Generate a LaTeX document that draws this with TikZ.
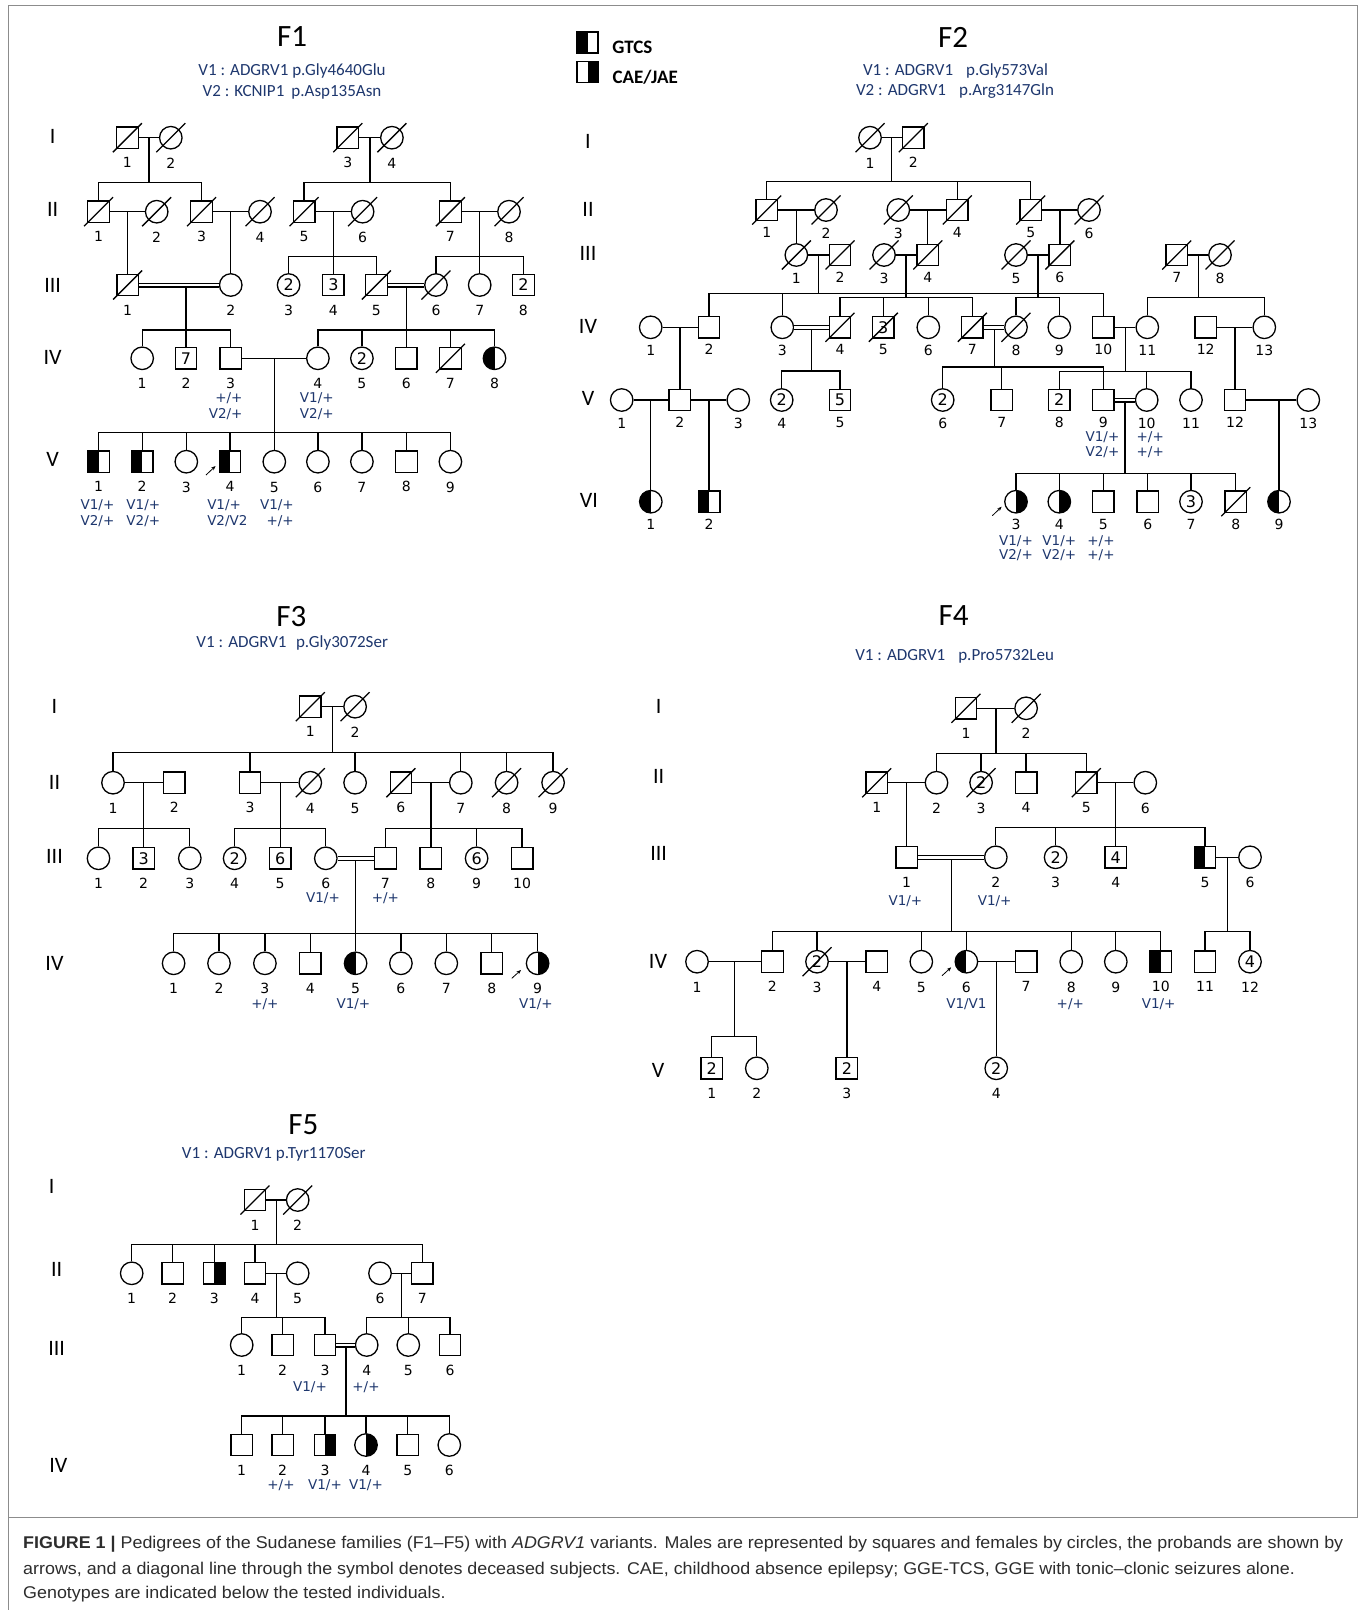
\documentclass[tikz,border=0pt]{standalone}
\usepackage{fontspec}
\setmainfont{Carlito}
\newfontfamily\numfont{DejaVu Sans}
\newfontfamily\capfont{Liberation Sans}
\usetikzlibrary{calc,arrows.meta}
\definecolor{navy}{RGB}{30,55,110}
\definecolor{capgray}{RGB}{45,45,45}
\definecolor{framec}{RGB}{140,140,140}
\newlength\capw
\newcommand\innerfont{\numfont\fontsize{16}{16}\selectfont}
\newcommand\capfnt{\capfont\fontsize{17}{20}\selectfont}
\newcommand\capone{\textbf{FIGURE 1 |} Pedigrees of the Sudanese families (F1–F5) with \textit{ADGRV1} variants. Males are represented by squares and females by circles, the probands are shown by}
\newcommand\captwo{arrows, and a diagonal line through the symbol denotes deceased subjects. CAE, childhood absence epilepsy; GGE-TCS, GGE with tonic–clonic seizures alone.}
\newcommand\capthree{Genotypes are indicated below the tested individuals.}
\newcommand\marry[3]{\draw (#1) -- (#2); \coordinate (#3) at ($(#1)!.5!(#2)$);}
\newcommand\cmarry[3]{\draw[double, double distance=2.8pt, line width=1.1pt] (#1) -- (#2); \coordinate (#3) at ($(#1)!.5!(#2)+(0,2.5)$);}
\newcommand\desc[2]{\draw (#1) -- (#1 |- #2.north);}
\newcommand\sibs[5]{%
  \coordinate (sibY) at (0,#2);
  \draw (#1) -- (#1 |- sibY);
  \draw (#3.north) -- (#3.north |- sibY) -- (#4.north |- sibY) -- (#4.north);
  \foreach \c in {#5} {\draw (\c.north) -- (\c.north |- sibY);}
}
\begin{document}
\settowidth{\capw}{\capfnt\capone}%
\pgfmathsetmacro\capsc{1320/\capw}%
\begin{tikzpicture}[x=1pt,y=-1pt,line width=1.3pt,label distance=8pt,
  sym/.style={draw, inner sep=0pt, font=\innerfont},
  male/.style={sym, rectangle, minimum size=21.5pt},
  fem/.style={sym, circle, minimum size=22.5pt},
  gt/.style={path picture={\fill[black] (path picture bounding box.south west) rectangle (path picture bounding box.north);}},
  ca/.style={path picture={\fill[black] (path picture bounding box.south) rectangle (path picture bounding box.north east);}},
  dead/.style={append after command={([shift={(-14.5pt,-14.5pt)}]\tikzlastnode.center) edge[line width=1.3pt] ([shift={(14.5pt,14.5pt)}]\tikzlastnode.center)}},
  numlab/.style={font=\numfont\fontsize{14}{14}\selectfont, inner sep=0pt, text height=10pt, text depth=0pt},
  lab/.style={label={[numlab]below:#1}},
  geno/.style={font=\numfont\fontsize{13.5}{15}\selectfont, text=navy, inner sep=0pt, anchor=base},
  gen/.style={font=\fontsize{22}{22}\selectfont, inner sep=0pt},
  ttl/.style={font=\fontsize{31}{31}\selectfont, inner sep=0pt},
  var/.style={font=\fontsize{17}{20}\selectfont, text=navy, inner sep=0pt, anchor=base},
  parrow/.style={line width=0.8pt, -{Stealth[length=4.5pt,width=3.5pt]}},
  capn/.style={anchor=base west, inner sep=0pt, text=capgray}]
\useasboundingbox (0,0) rectangle (1360,1610);
\fill[white] (0,0) rectangle (1360,1610);
\draw[framec, line width=0.8pt] (8.2,5) rectangle (1357,1517);
\draw[framec, line width=0.8pt] (8.2,1517) -- (8.2,1610);

% ---------------- legend
\node[male,gt,minimum size=21pt] (lg1) at (587.5,42.5) {};
\node[male,ca,minimum size=21pt] (lg2) at (587.5,71.7) {};
\node[font=\bfseries\fontsize{19}{19}\selectfont, anchor=base west, inner sep=0pt] (lg1t) at (611.7,53.2) {GTCS};
\node[font=\bfseries\fontsize{19}{19}\selectfont, anchor=base west, inner sep=0pt] (lg2t) at (612,83.2) {CAE/JAE};

% ================= F1
\node[ttl] (f1t) at (292,37) {F1};
\node[var] (f1v1) at (292,75) {V1 : ADGRV1 p.Gly4640Glu};
\node[var] (f1v2) at (292,96) {V2 : KCNIP1\hspace{7pt}p.Asp135Asn};
\node[gen] (f1gI) at (52.7,136.7) {I};
\node[gen] (f1gII) at (52.7,209.3) {II};
\node[gen] (f1gIII) at (52.7,285) {III};
\node[gen] (f1gIV) at (52.7,357.3) {IV};
\node[gen] (f1gV) at (52.7,459) {V};

\node[male,dead,lab=1] (f1I1) at (127.4,137.7) {};
\node[fem,dead,lab=2] (f1I2) at (170.8,137.7) {};
\node[male,dead,lab=3] (f1I3) at (347.8,137.7) {};
\node[fem,dead,lab=4] (f1I4) at (391.9,137.7) {};

\node[male,dead,lab=1] (f1II1) at (98.5,211.7) {};
\node[fem,dead,lab=2] (f1II2) at (156.7,211.7) {};
\node[male,dead,lab=3] (f1II3) at (201.5,211.7) {};
\node[fem,dead,lab=4] (f1II4) at (260,211.7) {};
\node[male,dead,lab=5] (f1II5) at (304.1,211.7) {};
\node[fem,dead,lab=6] (f1II6) at (362.6,211.7) {};
\node[male,dead,lab=7] (f1II7) at (450.4,211.7) {};
\node[fem,dead,lab=8] (f1II8) at (509,211.7) {};

\node[male,dead,lab=1] (f1III1) at (127.6,285) {};
\node[fem,lab=2] (f1III2) at (230.75,285) {};
\node[fem,lab=3] (f1III3) at (288.6,285) {2};
\node[male,lab=4] (f1III4) at (333.35,285) {3};
\node[male,dead,lab=5] (f1III5) at (376.4,285) {};
\node[fem,dead,lab=6] (f1III6) at (436,285) {};
\node[fem,lab=7] (f1III7) at (479.7,285) {};
\node[male,lab=8] (f1III8) at (523.4,285) {2};

\node[fem,lab=1] (f1IV1) at (142.2,358.3) {};
\node[male,lab=2] (f1IV2) at (186,358.3) {7};
\node[male,lab=3] (f1IV3) at (230.7,358.3) {};
\node[fem,lab=4] (f1IV4) at (317.9,358.3) {};
\node[fem,lab=5] (f1IV5) at (361.9,358.3) {2};
\node[male,lab=6] (f1IV6) at (406.2,358.3) {};
\node[male,dead,lab=7] (f1IV7) at (450.4,358.3) {};
\node[fem,gt,lab=8] (f1IV8) at (494.5,358.3) {};

\node[male,gt,lab=1] (f1V1) at (98.5,461.7) {};
\node[male,gt,lab=2] (f1V2) at (142.2,461.7) {};
\node[fem,lab=3] (f1V3) at (186.3,461.7) {};
\node[male,gt,lab=4] (f1V4) at (230,461.7) {};
\node[fem,lab=5] (f1V5) at (274.3,461.7) {};
\node[fem,lab=6] (f1V6) at (317.9,461.7) {};
\node[fem,lab=7] (f1V7) at (361.9,461.7) {};
\node[male,lab=8] (f1V8) at (406.4,461.7) {};
\node[fem,lab=9] (f1V9) at (450.4,461.7) {};

\marry{f1I1}{f1I2}{f1u1} \sibs{f1u1}{182.7}{f1II1}{f1II3}{f1II3}
\marry{f1I3}{f1I4}{f1u2} \sibs{f1u2}{182.7}{f1II5}{f1II7}{f1II7}
\marry{f1II1}{f1II2}{f1u3} \desc{f1u3}{f1III1}
\marry{f1II3}{f1II4}{f1u4} \desc{f1u4}{f1III2}
\marry{f1II5}{f1II6}{f1u5} \sibs{f1u5}{256.7}{f1III3}{f1III5}{f1III4}
\marry{f1II7}{f1II8}{f1u6} \sibs{f1u6}{256.7}{f1III6}{f1III8}{f1III7}
\cmarry{f1III1}{f1III2}{f1u7x}
\coordinate (f1u7) at (f1IV2 |- f1u7x);
\sibs{f1u7}{330}{f1IV1}{f1IV3}{f1IV2}
\cmarry{f1III5}{f1III6}{f1u8} \sibs{f1u8}{330}{f1IV4}{f1IV8}{f1IV5,f1IV6,f1IV7}
\marry{f1IV3}{f1IV4}{f1u9} \sibs{f1u9}{432.3}{f1V1}{f1V9}{f1V2,f1V3,f1V4,f1V5,f1V6,f1V7,f1V8}

\node[geno,anchor=base east] (f1g1) at (243.1,402.6) {+/+};
\node[geno,anchor=base east] (f1g2) at (243.1,418.2) {V2/+};
\node[geno] (f1g3) at (316.8,402.6) {V1/+};
\node[geno] (f1g4) at (316.8,418.2) {V2/+};
\node[geno] (f1g5) at (97.5,509.9) {V1/+};
\node[geno] (f1g6) at (97.5,525) {V2/+};
\node[geno] (f1g7) at (143.3,509.9) {V1/+};
\node[geno] (f1g8) at (143.3,525) {V2/+};
\node[geno,anchor=base west] (f1g9) at (206.6,509.9) {V1/+};
\node[geno,anchor=base west] (f1g10) at (206.6,525) {V2/V2};
\node[geno,anchor=base east] (f1g11) at (294.4,509.9) {V1/+};
\node[geno,anchor=base east] (f1g12) at (294.4,525) {+/+};
\coordinate (f1a0) at (206,475); \coordinate (f1a1) at (215.6,466);
\draw[parrow] (f1a0) -- (f1a1);

% ================= F2
\node[ttl] (f2t) at (953,37) {F2};
\node[var] (f2v1) at (955.5,75) {V1 : ADGRV1\hspace{13pt}p.Gly573Val};
\node[var] (f2v2) at (955,95) {V2 : ADGRV1\hspace{13pt}p.Arg3147Gln};
\node[gen] (f2gI) at (588,141.7) {I};
\node[gen] (f2gII) at (588,209) {II};
\node[gen] (f2gIII) at (588,253.3) {III};
\node[gen] (f2gIV) at (588,326.7) {IV};
\node[gen] (f2gV) at (588,398.3) {V};
\node[gen] (f2gVI) at (589,500) {VI};

\node[fem,dead,lab=1] (f2I1) at (870,137.7) {};
\node[male,dead,lab=2] (f2I2) at (913.3,137.7) {};

\begin{scope}[lab/.style={label={[numlab,yshift=2.5pt]below:#1}}]
\node[male,dead,lab=1] (f2II1) at (766.7,210) {};
\node[fem,dead,lab=2] (f2II2) at (826,210) {};
\node[fem,dead,lab=3] (f2II3) at (898.3,210) {};
\node[male,dead,lab=4] (f2II4) at (957.3,210) {};
\node[male,dead,lab=5] (f2II5) at (1030.7,210) {};
\node[fem,dead,lab=6] (f2II6) at (1089,210) {};

\node[fem,dead,lab=1] (f2III1) at (796.35,255) {};
\node[male,dead,lab=2] (f2III2) at (840,255) {};
\node[fem,dead,lab=3] (f2III3) at (884,255) {};
\node[male,dead,lab=4] (f2III4) at (927.8,255) {};
\node[fem,dead,lab=5] (f2III5) at (1016,255) {};
\node[male,dead,lab=6] (f2III6) at (1059.85,255) {};
\node[male,dead,lab=7] (f2III7) at (1176.7,255) {};
\node[fem,dead,lab=8] (f2III8) at (1220,255) {};

\node[fem,lab=1] (f2IV1) at (650.7,327.3) {};
\node[male,lab=2] (f2IV2) at (709,327.3) {};
\node[fem,lab=3] (f2IV3) at (782.3,327.3) {};
\node[male,dead,lab=4] (f2IV4) at (840,327.3) {};
\node[male,dead,lab=5] (f2IV5) at (883.3,327.3) {3};
\node[fem,lab=6] (f2IV6) at (928.3,327.3) {};
\node[male,dead,lab=7] (f2IV7) at (972.3,327.3) {};
\node[fem,dead,lab=8] (f2IV8) at (1016,327.3) {};
\node[fem,lab=9] (f2IV9) at (1059.3,327.3) {};
\node[male,lab=10] (f2IV10) at (1103.3,327.3) {};
\node[fem,lab=11] (f2IV11) at (1147.3,327.3) {};
\node[male,lab=12] (f2IV12) at (1205.7,327.3) {};
\node[fem,lab=13] (f2IV13) at (1264.3,327.3) {};

\node[fem,lab=1] (f2V1) at (621.7,400) {};
\node[male,lab=2] (f2V2) at (679.85,400) {};
\node[fem,lab=3] (f2V3) at (738.3,400) {};
\node[fem,lab=4] (f2V4) at (781.7,400) {2};
\node[male,lab=5] (f2V5) at (840,400) {5};
\node[fem,lab=6] (f2V6) at (942.7,400) {2};
\node[male,lab=7] (f2V7) at (1001.7,400) {};
\node[male,lab=8] (f2V8) at (1059.3,400) {2};
\node[male,lab=9] (f2V9) at (1103.3,400) {};
\node[fem,lab=10] (f2V10) at (1146.7,400) {};
\node[fem,lab=11] (f2V11) at (1191,400) {};
\node[male,lab=12] (f2V12) at (1235,400) {};
\node[fem,lab=13] (f2V13) at (1308.3,400) {};

\node[fem,gt,lab=1] (f2VI1) at (650.8,501.7) {};
\node[male,gt,lab=2] (f2VI2) at (709.1,501.7) {};
\node[fem,ca,lab=3] (f2VI3) at (1016,501.7) {};
\node[fem,ca,lab=4] (f2VI4) at (1059.3,501.7) {};
\node[male,lab=5] (f2VI5) at (1103.3,501.7) {};
\node[male,lab=6] (f2VI6) at (1147.7,501.7) {};
\node[fem,lab=7] (f2VI7) at (1191,501.7) {3};
\node[male,dead,lab=8] (f2VI8) at (1235.7,501.7) {};
\node[fem,gt,lab=9] (f2VI9) at (1279,501.7) {};
\end{scope}

\marry{f2I1}{f2I2}{f2u1} \sibs{f2u1}{181.7}{f2II1}{f2II5}{f2II4}
\marry{f2II1}{f2II2}{f2u2} \desc{f2u2}{f2III1}
\marry{f2II3}{f2II4}{f2u3} \desc{f2u3}{f2III4}
\marry{f2II5}{f2II6}{f2u4} \desc{f2u4}{f2III6}
\marry{f2III1}{f2III2}{f2u5} \sibs{f2u5}{293.3}{f2IV2}{f2IV10}{f2IV3}
\marry{f2III3}{f2III4}{f2u6} \sibs{f2u6}{297.3}{f2IV4}{f2IV7}{f2IV5,f2IV6}
\marry{f2III5}{f2III6}{f2u7} \sibs{f2u7}{297.3}{f2IV8}{f2IV9}{f2IV9}
\marry{f2III7}{f2III8}{f2u8} \sibs{f2u8}{297.3}{f2IV11}{f2IV13}{f2IV13}
\marry{f2IV1}{f2IV2}{f2u9} \desc{f2u9}{f2V2}
\cmarry{f2IV3}{f2IV4}{f2u10} \sibs{f2u10}{371}{f2V4}{f2V5}{f2V5}
\cmarry{f2IV7}{f2IV8}{f2u11} \sibs{f2u11}{367}{f2V6}{f2V9}{f2V7}
\marry{f2IV10}{f2IV11}{f2u12} \sibs{f2u12}{371.7}{f2V8}{f2V11}{f2V10}
\marry{f2IV12}{f2IV13}{f2u13} \desc{f2u13}{f2V12}
\marry{f2V1}{f2V2}{f2u14} \desc{f2u14}{f2VI1}
\marry{f2V2}{f2V3}{f2u15} \desc{f2u15}{f2VI2}
\cmarry{f2V9}{f2V10}{f2u16} \sibs{f2u16}{473.3}{f2VI3}{f2VI8}{f2VI4,f2VI5,f2VI6,f2VI7}
\marry{f2V12}{f2V13}{f2u17x}
\coordinate (f2u17) at (f2VI9 |- f2V12);
\desc{f2u17}{f2VI9}

\node[geno,anchor=base east] (f2g1) at (1120,441.5) {V1/+};
\node[geno,anchor=base east] (f2g2) at (1120,456.2) {V2/+};
\node[geno,anchor=base west] (f2g3) at (1136,441.5) {+/+};
\node[geno,anchor=base west] (f2g4) at (1136,456.2) {+/+};
\node[geno] (f2g5) at (1016,545.6) {V1/+};
\node[geno] (f2g6) at (1016,559.9) {V2/+};
\node[geno] (f2g7) at (1059.3,545.6) {V1/+};
\node[geno] (f2g8) at (1059.3,559.9) {V2/+};
\node[geno] (f2g9) at (1101,545.6) {+/+};
\node[geno] (f2g10) at (1101,559.9) {+/+};
\coordinate (f2a0) at (992.3,515.7); \coordinate (f2a1) at (1001.7,506.7);
\draw[parrow] (f2a0) -- (f2a1);

% ================= F3
\node[ttl] (f3t) at (291.4,617) {F3};
\node[var] (f3v1) at (292.2,647.7) {V1 : ADGRV1\hspace{9.5pt}p.Gly3072Ser};
\node[gen] (f3gI) at (54.5,706.7) {I};
\node[gen] (f3gII) at (54.5,782.7) {II};
\node[gen] (f3gIII) at (54.5,856.7) {III};
\node[gen] (f3gIV) at (54.5,963.3) {IV};

\node[male,dead,lab=1] (f3I1) at (310.3,706.7) {};
\node[fem,dead,lab=2] (f3I2) at (355.1,706.7) {};

\node[fem,lab=1] (f3II1) at (113,782.7) {};
\node[male,lab=2] (f3II2) at (174.3,782.7) {};
\node[male,lab=3] (f3II3) at (250,782.7) {};
\node[fem,dead,lab=4] (f3II4) at (310.3,782.7) {};
\node[fem,lab=5] (f3II5) at (355.1,782.7) {};
\node[male,dead,lab=6] (f3II6) at (400.9,782.7) {};
\node[fem,lab=7] (f3II7) at (460.8,782.7) {};
\node[fem,dead,lab=8] (f3II8) at (506.6,782.7) {};
\node[fem,dead,lab=9] (f3II9) at (553.1,782.7) {};

\node[fem,lab=1] (f3III1) at (98.5,858.3) {};
\node[male,lab=2] (f3III2) at (143.65,858.3) {3};
\node[fem,lab=3] (f3III3) at (189.8,858.3) {};
\node[fem,lab=4] (f3III4) at (234.6,858.3) {2};
\node[male,lab=5] (f3III5) at (280.15,858.3) {6};
\node[fem,lab=6] (f3III6) at (325.8,858.3) {};
\node[male,lab=7] (f3III7) at (385.4,858.3) {};
\node[male,lab=8] (f3III8) at (430.85,858.3) {};
\node[fem,lab=9] (f3III9) at (476.6,858.3) {6};
\node[male,lab=10] (f3III10) at (522.1,858.3) {};

\node[fem,lab=1] (f3IV1) at (173.6,963.3) {};
\node[fem,lab=2] (f3IV2) at (219,963.3) {};
\node[fem,lab=3] (f3IV3) at (264.9,963.3) {};
\node[male,lab=4] (f3IV4) at (310.3,963.3) {};
\node[fem,gt,lab=5] (f3IV5) at (355.6,963.3) {};
\node[fem,lab=6] (f3IV6) at (400.9,963.3) {};
\node[fem,lab=7] (f3IV7) at (446.3,963.3) {};
\node[male,lab=8] (f3IV8) at (491.8,963.3) {};
\node[fem,ca,lab=9] (f3IV9) at (537.6,963.3) {};

\marry{f3I1}{f3I2}{f3u1} \sibs{f3u1}{752.7}{f3II1}{f3II9}{f3II3,f3II5,f3II7,f3II8}
\marry{f3II1}{f3II2}{f3u2} \sibs{f3u2}{828.3}{f3III1}{f3III3}{f3III2}
\marry{f3II3}{f3II4}{f3u3} \sibs{f3u3}{828.3}{f3III4}{f3III6}{f3III5}
\marry{f3II6}{f3II7}{f3u4} \sibs{f3u4}{828.3}{f3III7}{f3III10}{f3III8,f3III9}
\cmarry{f3III6}{f3III7}{f3u5} \sibs{f3u5}{933.3}{f3IV1}{f3IV9}{f3IV2,f3IV3,f3IV4,f3IV5,f3IV6,f3IV7,f3IV8}

\node[geno] (f3g1) at (323,902.6) {V1/+};
\node[geno] (f3g2) at (385.4,902.6) {+/+};
\node[geno] (f3g3) at (264.9,1008.2) {+/+};
\node[geno] (f3g4) at (353.4,1008.2) {V1/+};
\node[geno] (f3g5) at (535.9,1008.2) {V1/+};
\coordinate (f3a0) at (511.8,978.3); \coordinate (f3a1) at (521,970);
\draw[parrow] (f3a0) -- (f3a1);

% ================= F4
\node[ttl] (f4t) at (953.7,616) {F4};
\node[var] (f4v1) at (954.6,660) {V1 : ADGRV1\hspace{13pt}p.Pro5732Leu};
\node[gen] (f4gI) at (658.7,706.7) {I};
\node[gen] (f4gII) at (658.7,776.7) {II};
\node[gen] (f4gIII) at (658.7,853.3) {III};
\node[gen] (f4gIV) at (658,961.7) {IV};
\node[gen] (f4gV) at (658,1070) {V};

\node[male,dead,lab=1] (f4I1) at (966,708.3) {};
\node[fem,dead,lab=2] (f4I2) at (1026.1,708.3) {};

\node[male,dead,lab=1] (f4II1) at (876.7,782.7) {};
\node[fem,lab=2] (f4II2) at (936.5,782.7) {};
\node[fem,dead,lab=3] (f4II3) at (981.1,782.7) {2};
\node[male,lab=4] (f4II4) at (1026.1,782.7) {};
\node[male,dead,lab=5] (f4II5) at (1086.3,782.7) {};
\node[fem,lab=6] (f4II6) at (1145.3,782.7) {};

\node[male,lab=1] (f4III1) at (906.6,857.3) {};
\node[fem,lab=2] (f4III2) at (995.8,857.3) {};
\node[fem,lab=3] (f4III3) at (1055.6,857.3) {2};
\node[male,lab=4] (f4III4) at (1115.8,857.3) {4};
\node[male,gt,lab=5] (f4III5) at (1205,857.3) {};
\node[fem,lab=6] (f4III6) at (1250,857.3) {};

\node[fem,lab=1] (f4IV1) at (697,961.7) {};
\node[male,lab=2] (f4IV2) at (772.4,961.7) {};
\node[fem,dead,lab=3] (f4IV3) at (817,961.7) {2};
\node[male,lab=4] (f4IV4) at (876.7,961.7) {};
\node[fem,lab=5] (f4IV5) at (921.3,961.7) {};
\node[fem,gt,lab=6] (f4IV6) at (966.4,961.7) {};
\node[male,lab=7] (f4IV7) at (1026.1,961.7) {};
\node[fem,lab=8] (f4IV8) at (1071.2,961.7) {};
\node[fem,lab=9] (f4IV9) at (1115.8,961.7) {};
\node[male,gt,lab=10] (f4IV10) at (1160.8,961.7) {};
\node[male,lab=11] (f4IV11) at (1205,961.7) {};
\node[fem,lab=12] (f4IV12) at (1250,961.7) {4};

\node[male,lab=1] (f4V1) at (711.8,1068.3) {2};
\node[fem,lab=2] (f4V2) at (756.8,1068.3) {};
\node[male,lab=3] (f4V3) at (846.85,1068.3) {2};
\node[fem,lab=4] (f4V4) at (996.25,1068.3) {2};

\marry{f4I1}{f4I2}{f4u1} \sibs{f4u1}{753.3}{f4II2}{f4II5}{f4II3,f4II4}
\marry{f4II1}{f4II2}{f4u2} \desc{f4u2}{f4III1}
\marry{f4II5}{f4II6}{f4u3} \sibs{f4u3}{827.7}{f4III2}{f4III5}{f4III3,f4III4}
\cmarry{f4III1}{f4III2}{f4u4} \sibs{f4u4}{931.7}{f4IV2}{f4IV10}{f4IV3,f4IV5,f4IV6,f4IV8,f4IV9}
\marry{f4III5}{f4III6}{f4u5} \sibs{f4u5}{931.7}{f4IV11}{f4IV12}{f4IV12}
\marry{f4IV1}{f4IV2}{f4u6} \sibs{f4u6}{1036.7}{f4V1}{f4V2}{f4V2}
\marry{f4IV3}{f4IV4}{f4u7} \desc{f4u7}{f4V3}
\marry{f4IV6}{f4IV7}{f4u8} \desc{f4u8}{f4V4}

\node[geno] (f4g1) at (905.4,905.6) {V1/+};
\node[geno] (f4g2) at (994.6,905.6) {V1/+};
\node[geno] (f4g3) at (966.4,1008.2) {V1/V1};
\node[geno] (f4g4) at (1070.3,1008.2) {+/+};
\node[geno] (f4g5) at (1158.7,1008.2) {V1/+};
\coordinate (f4a0) at (942,975.7); \coordinate (f4a1) at (951.2,967.3);
\draw[parrow] (f4a0) -- (f4a1);

% ================= F5
\node[ttl] (f5t) at (303.3,1125) {F5};
\node[var] (f5v1) at (273.8,1158.3) {V1 : ADGRV1 p.Tyr1170Ser};
\node[gen] (f5gI) at (51.7,1186) {I};
\node[gen] (f5gII) at (56.7,1269.3) {II};
\node[gen] (f5gIII) at (56.7,1348) {III};
\node[gen] (f5gIV) at (58.3,1465) {IV};

\node[male,dead,lab=1] (f5I1) at (255,1200) {};
\node[fem,dead,lab=2] (f5I2) at (297.7,1200) {};

\node[fem,lab=1] (f5II1) at (131.7,1273.3) {};
\node[male,lab=2] (f5II2) at (172.7,1273.3) {};
\node[male,ca,lab=3] (f5II3) at (214.3,1273.3) {};
\node[male,lab=4] (f5II4) at (255,1273.3) {};
\node[fem,lab=5] (f5II5) at (297.7,1273.3) {};
\node[fem,lab=6] (f5II6) at (380,1273.3) {};
\node[male,lab=7] (f5II7) at (422.3,1273.3) {};

\node[fem,lab=1] (f5III1) at (241.7,1345) {};
\node[male,lab=2] (f5III2) at (282.7,1345) {};
\node[male,lab=3] (f5III3) at (325,1345) {};
\node[fem,lab=4] (f5III4) at (366.7,1345) {};
\node[fem,lab=5] (f5III5) at (408.3,1345) {};
\node[male,lab=6] (f5III6) at (450,1345) {};

\node[male,lab=1] (f5IV1) at (241.7,1445) {};
\node[male,lab=2] (f5IV2) at (282.7,1445) {};
\node[male,ca,lab=3] (f5IV3) at (325,1445) {};
\node[fem,ca,lab=4] (f5IV4) at (366,1445) {};
\node[male,lab=5] (f5IV5) at (407.7,1445) {};
\node[fem,lab=6] (f5IV6) at (449.3,1445) {};

\marry{f5I1}{f5I2}{f5u1} \sibs{f5u1}{1244.3}{f5II1}{f5II7}{f5II2,f5II3,f5II4}
\marry{f5II4}{f5II5}{f5u2} \sibs{f5u2}{1317.3}{f5III1}{f5III3}{f5III2}
\marry{f5II6}{f5II7}{f5u3} \sibs{f5u3}{1317.3}{f5III4}{f5III6}{f5III5}
\cmarry{f5III3}{f5III4}{f5u4} \sibs{f5u4}{1416}{f5IV1}{f5IV6}{f5IV2,f5IV3,f5IV4,f5IV5}

\node[geno] (f5g1) at (310,1391.6) {V1/+};
\node[geno] (f5g2) at (366,1391.6) {+/+};
\node[geno] (f5g3) at (281,1489.9) {+/+};
\node[geno] (f5g4) at (325,1489.9) {V1/+};
\node[geno] (f5g5) at (366,1489.9) {V1/+};

% ================= caption
\node[capn] (cap1) at (22.6,1548) {\scalebox{\capsc}[1]{\capfnt\capone}};
\node[capn] (cap2) at (22.6,1574) {\scalebox{\capsc}[1]{\capfnt\captwo}};
\node[capn] (cap3) at (22.6,1598) {\scalebox{\capsc}[1]{\capfnt\capthree}};
\end{tikzpicture}
\end{document}
